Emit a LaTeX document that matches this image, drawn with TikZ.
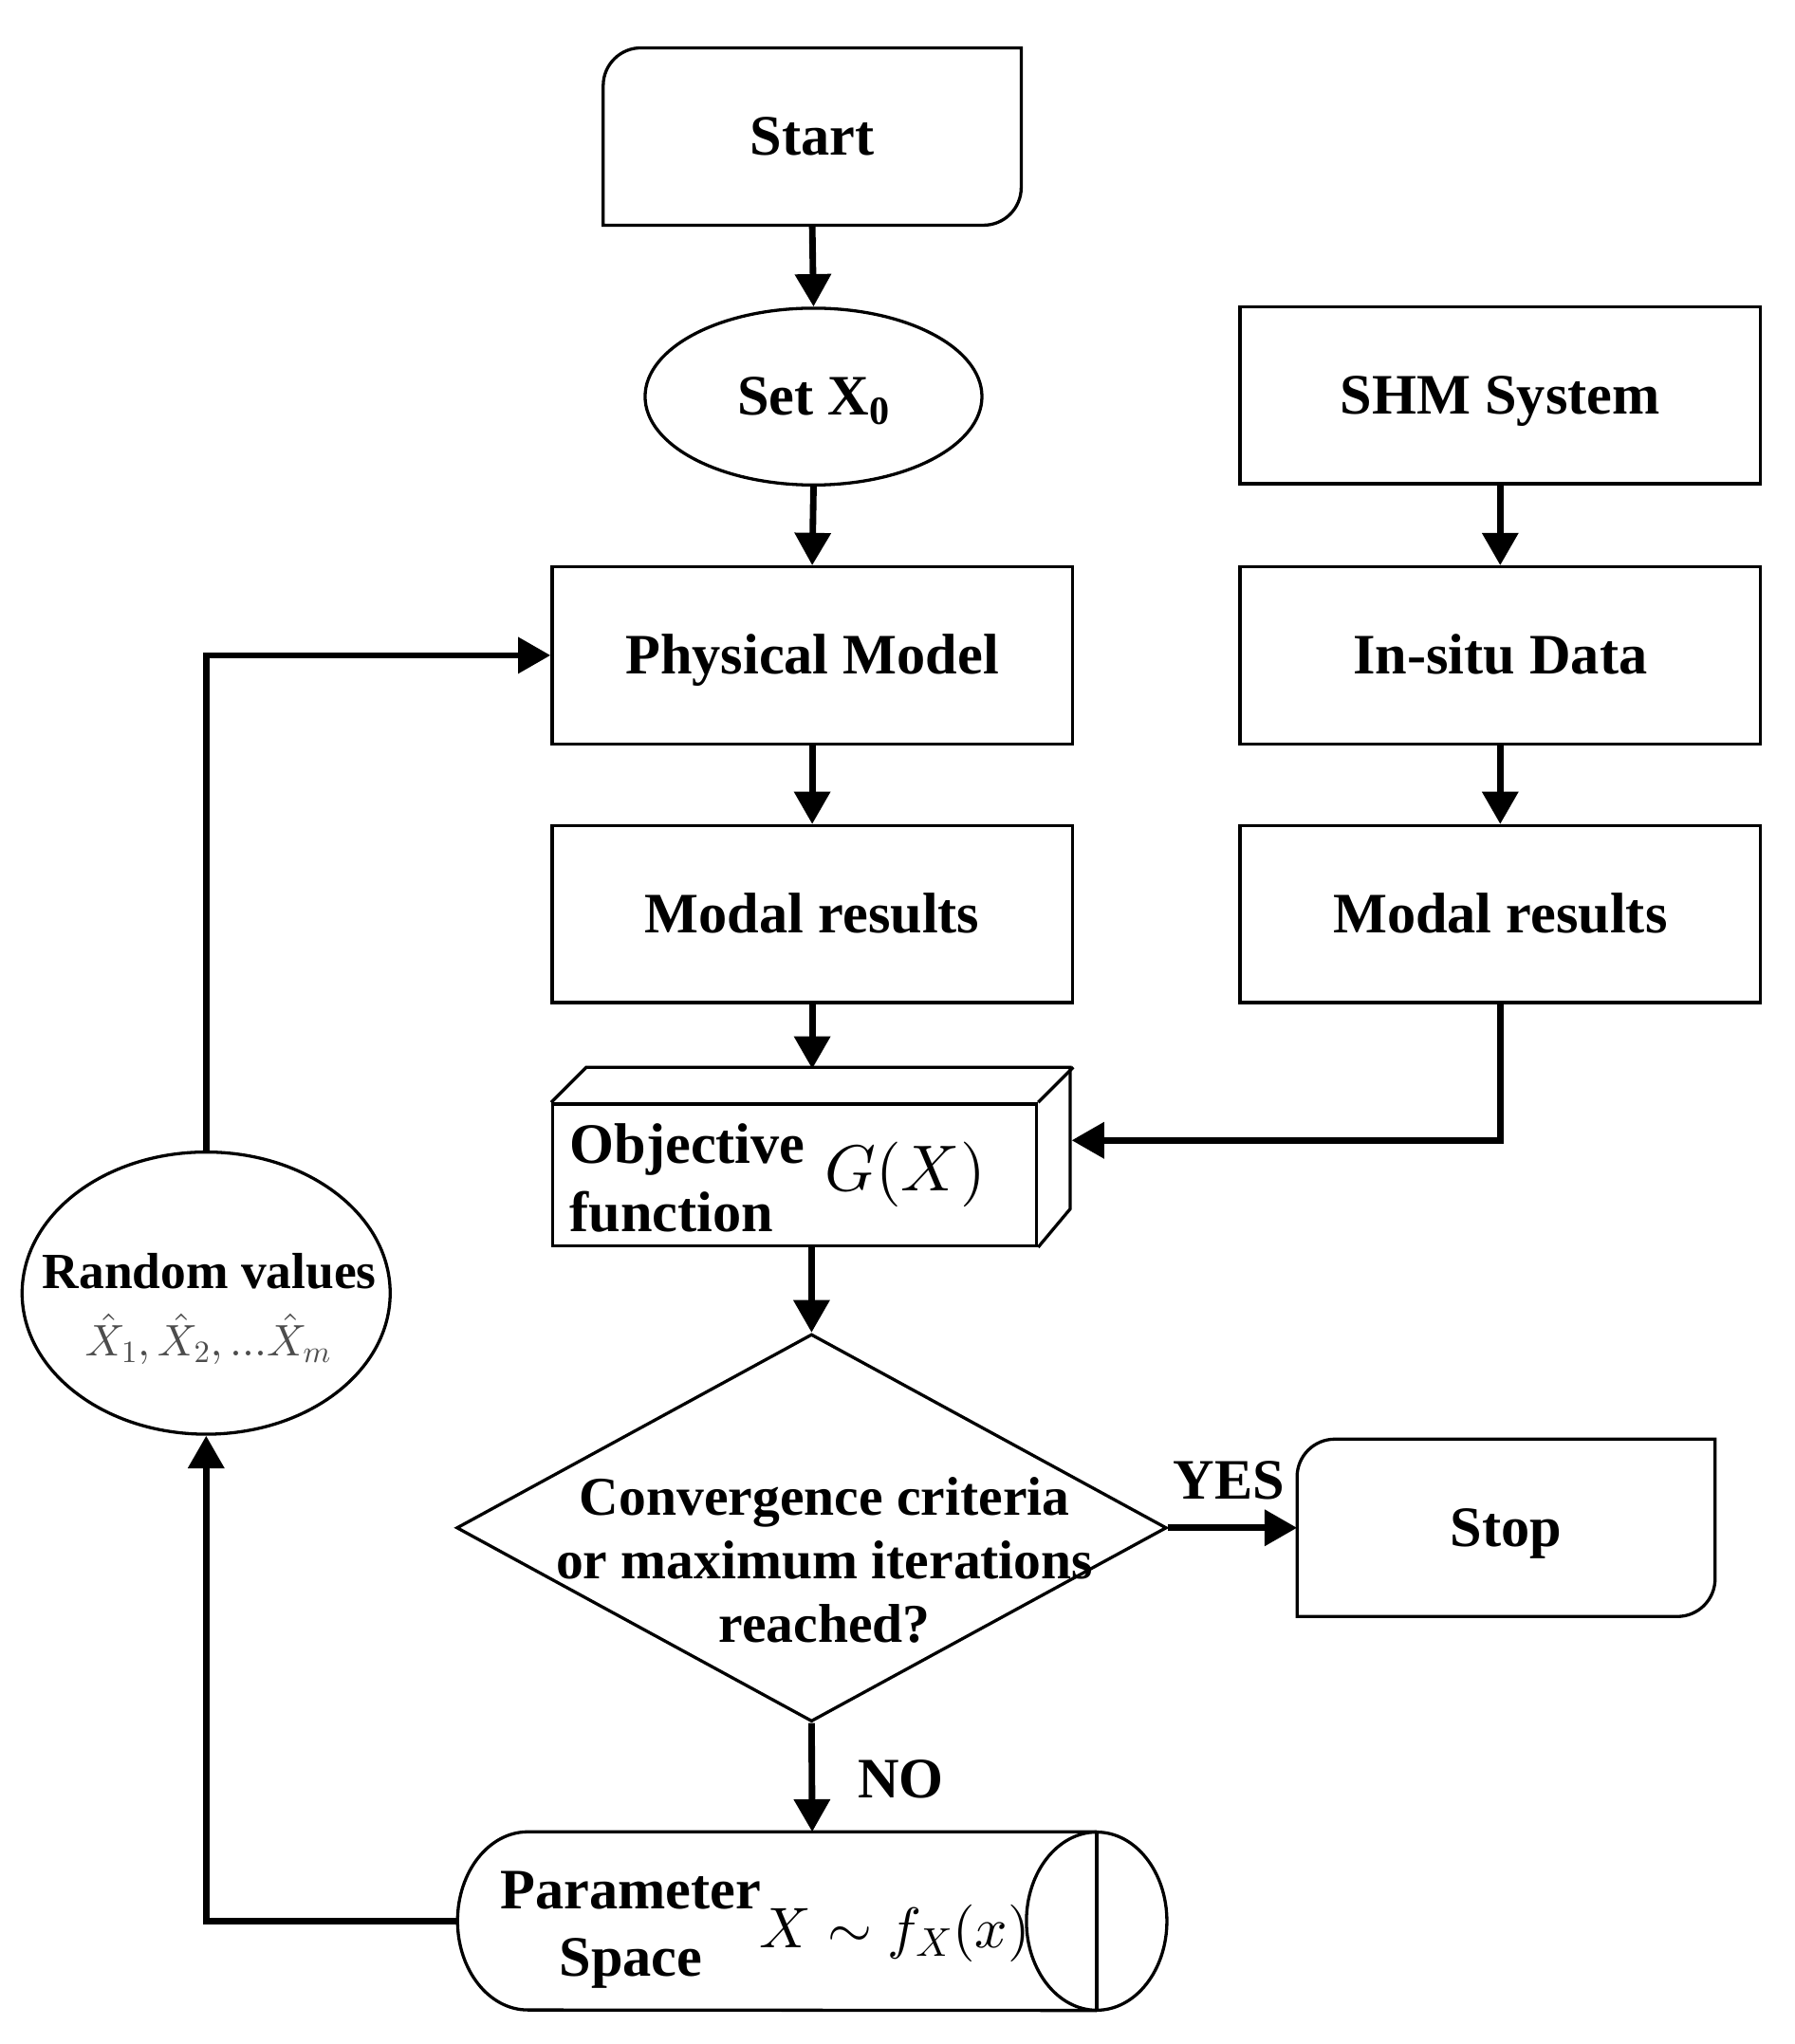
\documentclass[tikz,border=0pt]{standalone}
\usepackage[no-math]{fontspec}
\setmainfont{Liberation Serif}
\usetikzlibrary{shapes.geometric,arrows.meta}
\DeclareFontShape{OML}{cmm}{m}{it}{<-> cmmi10}{\skewchar\font'177}
\DeclareFontShape{OMS}{cmsy}{m}{n}{<-> cmsy10}{\skewchar\font'60}
\DeclareFontShape{OT1}{cmr}{m}{n}{<-> cmr10}{}
\definecolor{mathgray}{gray}{0.3}

\begin{document}
\begin{tikzpicture}[x=1pt,y=-1pt,
    every node/.style={font=\bfseries\fontsize{44}{52}\selectfont, inner sep=0pt},
    boxline/.style={line width=2.4pt, line join=miter},
    captext/.style={text height=29pt, text depth=0pt},
    stepbox/.style={boxline, draw, rectangle, captext, minimum width=400pt, minimum height=136pt},
    termbox/.style={rectangle, captext, minimum width=321pt, minimum height=136pt},
    ovalnode/.style={boxline, draw, ellipse},
    flowarrow/.style={line width=5pt, -{Triangle[length=25pt,width=27pt]}}]
  \useasboundingbox (0,0) rectangle (1380,1572);

  % left column
  \node[termbox] (start) at (624.5,105) {Start};
  \node[ovalnode, captext, minimum width=259pt, minimum height=136pt] (set) at (625.5,305) {Set X\textsubscript{0}};
  \node[stepbox] (phys) at (624.5,504) {Physical Model};
  \node[stepbox] (modalL) at (624.5,703) {Modal results};
  \node[boxline, draw, minimum width=372pt, minimum height=109pt] (obj) at (611,903.5) {};
  \node[anchor=west, align=left] (objtxt) at (438,906) {Objective\\function};
  \node[font=\fontsize{50}{56}\selectfont] (objmath) at (696,903) {$G(X)$};
  \node[boxline, draw, diamond, minimum width=546pt, minimum height=298pt] (dec) at (624,1175) {};
  \node[align=center, font=\bfseries\fontsize{42}{49}\selectfont] (dectxt) at (634,1200)
    {Convergence criteria\\or maximum iterations\\reached?};
  \node[termbox] (stop) at (1158,1175) {Stop};
  \node[minimum width=545pt, minimum height=137pt] (param) at (624.5,1477.5) {};
  \node[align=center] (partxt) at (485,1484) {Parameter\\Space};
  \node[font=\fontsize{44}{50}\selectfont] (parmath) at (688,1487) {$X\sim f_X(x)$};

  % right column
  \node[stepbox] (shm) at (1153.5,304) {SHM System};
  \node[stepbox] (insitu) at (1153.5,504) {In-situ Data};
  \node[stepbox] (modalR) at (1153.5,703) {Modal results};

  % sampling loop
  \node[ovalnode, minimum width=283pt, minimum height=217pt] (rand) at (158.5,994.5) {};
  \node[font=\bfseries\fontsize{39}{45}\selectfont] (randtxt) at (161,978) {Random values};
  \node[font=\fontsize{34}{38}\selectfont, text=mathgray] (randmath) at (160,1030)
    {$\hat{X}_1,\hat{X}_2,...\hat{X}_m$};

  % outlines
  \draw[boxline] (start.south west) -- ([yshift=-29pt]start.north west)
    arc[start angle=180,end angle=90,radius=29pt] -- (start.north east)
    -- ([yshift=29pt]start.south east) arc[start angle=0,end angle=-90,radius=29pt] -- cycle;
  \draw[boxline] (stop.south west) -- ([yshift=-29pt]stop.north west)
    arc[start angle=180,end angle=90,radius=29pt] -- (stop.north east)
    -- ([yshift=29pt]stop.south east) arc[start angle=0,end angle=-90,radius=29pt] -- cycle;
  \draw[boxline] (obj.north west) -- ++(27,-27) -- ++(372,0) -- ++(0,109) -- (obj.south east);
  \draw[boxline] (obj.north east) -- ++(27,-27);
  \draw[boxline] ([xshift=-54pt]param.north east) -- ([xshift=54pt]param.north west)
    arc[start angle=90,end angle=270,x radius=54pt,y radius=68.5pt]
    -- ([xshift=-54pt]param.south east);
  \draw[boxline] ([xshift=-54pt]param.east) ellipse [x radius=54pt, y radius=68.5pt];
  \draw[boxline] ([xshift=-54pt]param.north east) -- ([xshift=-54pt]param.south east);

  \coordinate (objtop) at (624.5,822);
  \coordinate (objright) at (824,877);

  \begin{scope}[flowarrow]
    \draw (start.south) -- (set.north);
    \draw (set.south) -- (phys.north);
    \draw (phys.south) -- (modalL.north);
    \draw (modalL.south) -- (objtop);
    \draw (shm.south) -- (insitu.north);
    \draw (insitu.south) -- (modalR.north);
    \draw (modalR.south) |- (objright);
    \draw (dec.north |- obj.south) -- (dec.north);
    \draw (dec.east) -- node[above=19pt, xshift=-3pt] (yes) {YES} (stop.west);
    \draw (dec.south) -- node[right=33pt, yshift=-1pt] (no) {NO} (param.north);
    \draw (param.west) -| (rand.south);
    \draw (rand.north) |- (phys.west);
  \end{scope}
\end{tikzpicture}
\end{document}
